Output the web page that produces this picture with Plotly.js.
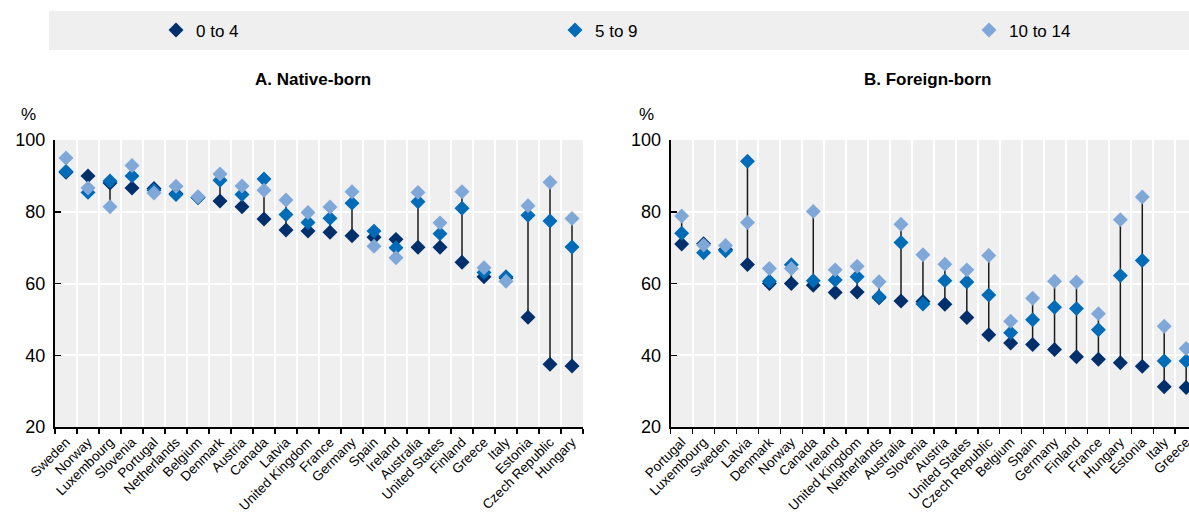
<!DOCTYPE html>
<html>
<head>
<meta charset="utf-8">
<script src="https://cdn.plot.ly/plotly-3.0.1.min.js"></script>
<style>html,body{margin:0;padding:0;background:#fff;}#chart{width:1189px;height:520px;}</style>
</head>
<body>
<div id="chart"></div>
<script>
const nativeCountries = ["Sweden","Norway","Luxembourg","Slovenia","Portugal","Netherlands","Belgium","Denmark","Austria","Canada","Latvia","United Kingdom","France","Germany","Spain","Ireland","Australia","United States","Finland","Greece","Italy","Estonia","Czech Republic","Hungary"];
const native0to4 = [91, 90, 88, 86.6, 86.5, 85, 84, 83, 81.4, 78, 74.9, 74.6, 74.3, 73.3, 72.9, 72.3, 70.1, 70.1, 65.9, 61.9, 61.5, 50.6, 37.5, 37];
const native5to9 = [91.2, 85.4, 88.6, 90, 86, 84.8, 84, 88.8, 84.8, 89.1, 79.2, 77, 78.2, 82.4, 74.6, 70, 82.8, 73.9, 81, 63.1, 61.9, 79, 77.4, 70.2];
const native10to14 = [95, 86.6, 81.4, 92.9, 85.2, 87.1, 84.2, 90.5, 87.2, 86, 83.3, 79.8, 81.3, 85.6, 70.4, 67.2, 85.4, 76.9, 85.6, 64.4, 60.6, 81.7, 88.2, 78.1];

const foreignCountries = ["Portugal","Luxembourg","Sweden","Latvia","Denmark","Norway","Canada","Ireland","United Kingdom","Netherlands","Australia","Slovenia","Austria","United States","Czech Republic","Belgium","Spain","Germany","Finland","France","Hungary","Estonia","Italy","Greece"];
const foreign0to4 = [71, 71.1, 69.5, 65.3, 60, 60, 59.5, 57.5, 57.6, 56, 55.1, 55, 54.2, 50.5, 45.7, 43.4, 43, 41.6, 39.6, 38.9, 37.9, 36.9, 31.2, 31];
const foreign5to9 = [74, 68.6, 69.1, 94.1, 60.6, 65.2, 60.8, 61, 61.9, 56.3, 71.4, 54.3, 60.8, 60.4, 56.8, 46.3, 49.9, 53.4, 53, 47.1, 62.2, 66.4, 38.4, 38.4];
const foreign10to14 = [78.8, 70.7, 70.6, 77, 64.2, 64.2, 80.1, 63.8, 64.8, 60.5, 76.5, 68, 65.4, 63.8, 67.8, 49.5, 55.9, 60.6, 60.4, 51.6, 77.8, 84.1, 48.1, 41.9];

const seriesNames = ["0 to 4", "5 to 9", "10 to 14"];
const yTicks = [20, 40, 60, 80, 100];

const colors = ["#002F6C", "#006BB6", "#7FA8D9"];
const FONT = "'Liberation Sans Narrow', 'Arial Narrow', 'Liberation Sans', Arial, sans-serif";
const W = 1189, H = 520, MT = 140, MB = 93;
const px = v => v / W;
const py = yPix => (H - MB - yPix) / (H - MT - MB);

function rangeLines(cats, a, b, c, xa, ya) {
  const xs = [], ys = [];
  cats.forEach((cat, i) => {
    const vals = [a[i], b[i], c[i]];
    xs.push(cat, cat, null);
    ys.push(Math.min(...vals), Math.max(...vals), null);
  });
  return {type: "scatter", mode: "lines", x: xs, y: ys, xaxis: xa, yaxis: ya,
    line: {color: "#1a1a1a", width: 1.5}, showlegend: false, hoverinfo: "skip"};
}

function markers(cats, vals, k, xa, ya, show) {
  const t = {type: "scatter", mode: "markers", x: cats, y: vals, xaxis: xa, yaxis: ya,
    name: seriesNames[k], showlegend: show,
    marker: {symbol: "diamond", size: 11.5, color: colors[k], line: {width: 0}}, hoverinfo: "skip"};
  if (k > 0) t.legend = ["legend", "legend2", "legend3"][k];
  return t;
}

const nativeSeries = [native0to4, native5to9, native10to14];
const foreignSeries = [foreign0to4, foreign5to9, foreign10to14];

const data = [
  rangeLines(nativeCountries, native0to4, native5to9, native10to14, "x", "y"),
  rangeLines(foreignCountries, foreign0to4, foreign5to9, foreign10to14, "x2", "y2")
];
for (let k = 0; k < 3; k++) data.push(markers(nativeCountries, nativeSeries[k], k, "x", "y", true));
for (let k = 0; k < 3; k++) data.push(markers(foreignCountries, foreignSeries[k], k, "x2", "y2", false));

const xCommon = {
  type: "category", tickson: "boundaries", showgrid: true, gridcolor: "#ffffff", gridwidth: 2,
  showline: true, linecolor: "#000", linewidth: 2, ticks: "outside", ticklen: 5, tickwidth: 1.5, tickcolor: "#000",
  tickangle: -45, tickfont: {family: FONT, size: 13.5, color: "#000"}, zeroline: false, fixedrange: true
};
const yCommon = {
  range: [20, 100], tickvals: yTicks, ticktext: yTicks.map(String), showgrid: true, gridcolor: "#ffffff", gridwidth: 2,
  showline: true, linecolor: "#000", linewidth: 2, ticks: "inside", ticklen: 6, tickwidth: 1.5, tickcolor: "#000",
  tickfont: {family: FONT, size: 18, color: "#000"}, zeroline: false, fixedrange: true, ticklabelstandoff: 4
};

const legendCommon = {orientation: "h", bgcolor: "rgba(0,0,0,0)", font: {family: FONT, size: 17, color: "#000"},
  yanchor: "middle", xanchor: "left", y: py(30.5), itemwidth: 30};

const layout = {
  width: W, height: H,
  margin: {l: 0, r: 0, t: MT, b: MB},
  paper_bgcolor: "#fff", plot_bgcolor: "#EFEFEF",
  font: {family: FONT, color: "#000"},
  xaxis: Object.assign({}, xCommon, {domain: [px(55), px(583)], anchor: "y", range: [-0.5, 23.5]}),
  yaxis: Object.assign({}, yCommon, {anchor: "x"}),
  xaxis2: Object.assign({}, xCommon, {domain: [px(670.7), 1], anchor: "y2", range: [-0.5, 23.13]}),
  yaxis2: Object.assign({}, yCommon, {anchor: "x2"}),
  legend: Object.assign({}, legendCommon, {x: px(176 - 20)}),
  legend2: Object.assign({}, legendCommon, {x: px(575 - 20)}),
  legend3: Object.assign({}, legendCommon, {x: px(989 - 20)}),
  shapes: [{type: "rect", xref: "paper", yref: "paper", x0: px(49), x1: 1, y0: py(50), y1: py(11),
    fillcolor: "#EFEFEF", line: {width: 0}, layer: "below"}],
  annotations: [
    {text: "<b>A. Native-born</b>", xref: "paper", yref: "paper", x: px(313), y: py(80), showarrow: false,
      xanchor: "center", yanchor: "middle", font: {family: FONT, size: 17, color: "#000"}},
    {text: "<b>B. Foreign-born</b>", xref: "paper", yref: "paper", x: px(927.5), y: py(80), showarrow: false,
      xanchor: "center", yanchor: "middle", font: {family: FONT, size: 17, color: "#000"}},
    {text: "%", xref: "paper", yref: "paper", x: px(28), y: py(114), showarrow: false,
      xanchor: "center", yanchor: "middle", font: {family: FONT, size: 17, color: "#000"}},
    {text: "%", xref: "paper", yref: "paper", x: px(646.7), y: py(114), showarrow: false,
      xanchor: "center", yanchor: "middle", font: {family: FONT, size: 17, color: "#000"}}
  ],
  hovermode: false
};
Plotly.newPlot("chart", data, layout, {displayModeBar: false, staticPlot: true});
</script>
</body>
</html>
